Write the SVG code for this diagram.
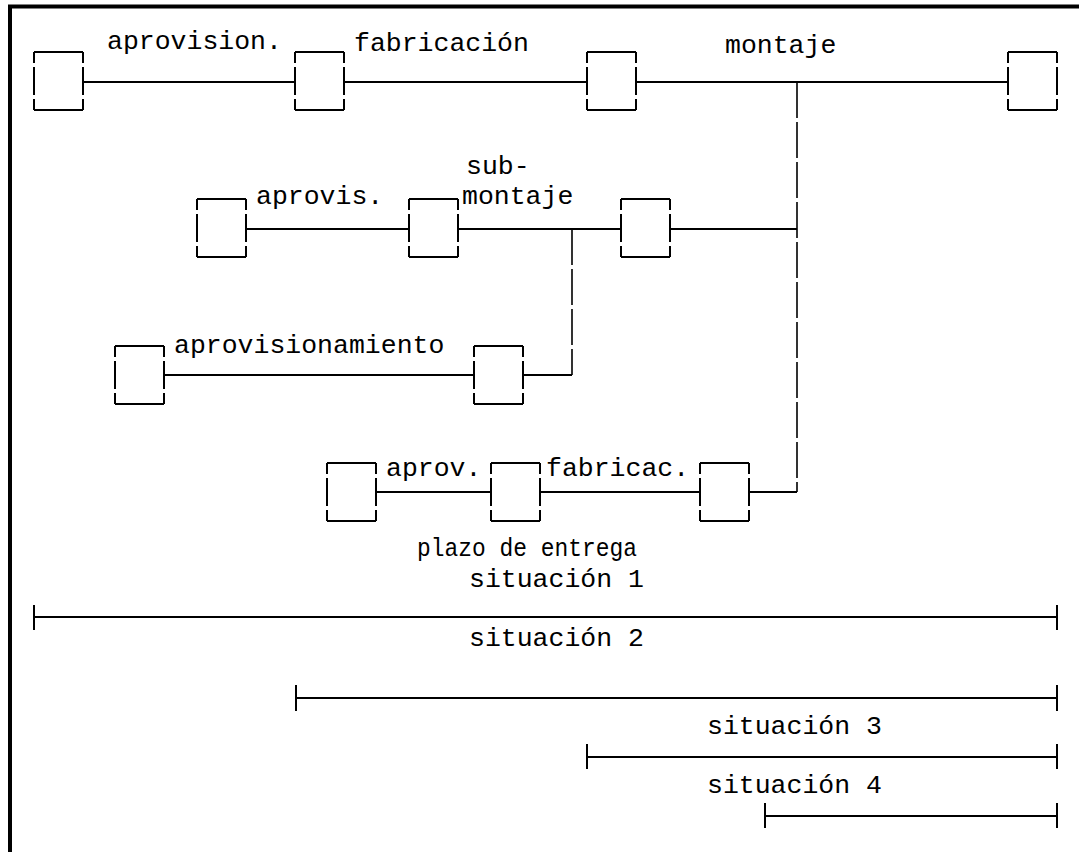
<svg xmlns="http://www.w3.org/2000/svg" xmlns:xlink="http://www.w3.org/1999/xlink" width="1079" height="852" viewBox="0 0 1079 852">
<style>
.frame{stroke:#000;stroke-width:4;fill:none}
.box{stroke:#000;stroke-width:2;fill:none}
.ln{stroke:#000;stroke-width:2;fill:none}
.dash{stroke:#000;stroke-width:1.6;fill:none;stroke-dasharray:36 4}
.t{font-family:"Liberation Mono","DejaVu Sans Mono",monospace;font-size:26.5px;fill:#000}
</style>
<defs>
<g id="bx">
<path class="box" d="M0,0 H49 M0,58 H49 M0,0 V11 M0,15 V43 M0,47 V58 M49,0 V11 M49,15 V43 M49,47 V58"/>
</g>
</defs>
<rect width="1079" height="852" fill="#fff"/>
<path class="frame" d="M10,852 V6.5 H1079"/>

<g id="connectors">
<path class="ln" d="M83,82 H295 M344,82 H587 M636,82 H1008"/>
<path class="ln" d="M246,229 H409 M458,229 H621 M670,229 H797"/>
<path class="ln" d="M164,375 H474 M523,375 H572"/>
<path class="ln" d="M376,492 H491 M540,492 H700 M749,492 H797"/>
<path class="dash" d="M797,82 V492"/>
<path class="dash" d="M572,229 V375"/>
</g>

<g id="n1"><use xlink:href="#bx" transform="translate(34,52)"/></g>
<g id="n2"><use xlink:href="#bx" transform="translate(295,52)"/></g>
<g id="n3"><use xlink:href="#bx" transform="translate(587,52)"/></g>
<g id="n4"><use xlink:href="#bx" transform="translate(1008,52)"/></g>
<g id="n5"><use xlink:href="#bx" transform="translate(197,199)"/></g>
<g id="n6"><use xlink:href="#bx" transform="translate(409,199)"/></g>
<g id="n7"><use xlink:href="#bx" transform="translate(621,199)"/></g>
<g id="n8"><use xlink:href="#bx" transform="translate(115,346)"/></g>
<g id="n9"><use xlink:href="#bx" transform="translate(474,346)"/></g>
<g id="n10"><use xlink:href="#bx" transform="translate(327,463)"/></g>
<g id="n11"><use xlink:href="#bx" transform="translate(491,463)"/></g>
<g id="n12"><use xlink:href="#bx" transform="translate(700,463)"/></g>

<g id="labels">
<text class="t" x="107" y="49">aprovision.</text>
<text class="t" x="354" y="51">fabricación</text>
<text class="t" x="725" y="53">montaje</text>
<text class="t" x="466" y="174">sub-</text>
<text class="t" x="256" y="204">aprovis.</text>
<text class="t" x="462" y="204">montaje</text>
<text class="t" x="174" y="353">aprovisionamiento</text>
<text class="t" x="386" y="476">aprov.</text>
<text class="t" x="546" y="476">fabricac.</text>
<text class="t" x="417" y="556" textLength="220" lengthAdjust="spacingAndGlyphs">plazo de entrega</text>
</g>

<g id="spans">
<path class="ln" d="M34,617 H1057 M34,605 V630 M1057,605 V630"/>
<path class="ln" d="M296,698 H1057 M296,685 V711 M1057,685 V711"/>
<path class="ln" d="M587,757 H1057 M587,744 V769 M1057,744 V769"/>
<path class="ln" d="M765,816 H1057 M765,803 V828 M1057,803 V828"/>
<text class="t" x="469" y="587">situación 1</text>
<text class="t" x="469" y="646">situación 2</text>
<text class="t" x="707" y="734">situación 3</text>
<text class="t" x="707" y="793">situación 4</text>
</g>
</svg>
